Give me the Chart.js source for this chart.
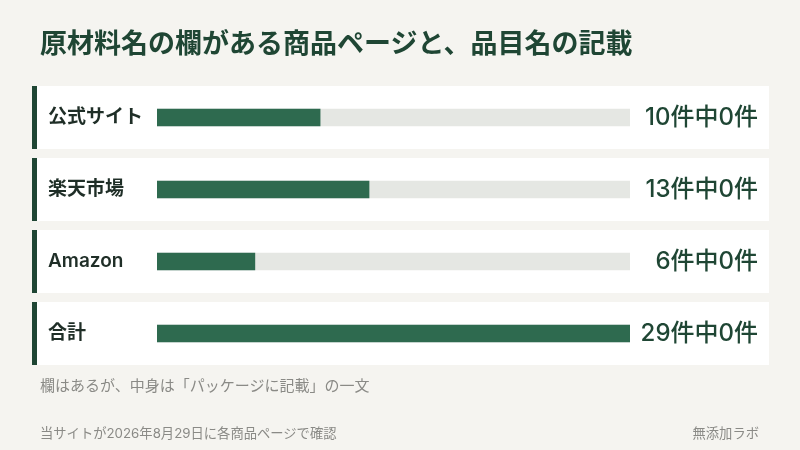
<!DOCTYPE html>
<html lang="ja">
<head>
<meta charset="utf-8">
<script src="https://cdn.jsdelivr.net/npm/chart.js@4.4.1/dist/chart.umd.min.js"></script>
<style>
  html, body { margin: 0; padding: 0; }
  body {
    width: 800px; height: 450px; overflow: hidden; position: relative;
    background: #f5f4f0;
    font-family: Inter, "Noto Sans CJK JP", sans-serif;
  }
  #wrap { position: absolute; left: 0; top: 0; width: 800px; height: 450px; }
  .titulo {
    position: absolute; left: 40px; top: 26px; margin: 0;
    font-size: 27px; font-weight: 700; color: #1f4634; line-height: 36px;
  }
  .nota { position: absolute; left: 40px; top: 374px; font-size: 15px; color: #8a8a86; }
  .pie { position: absolute; top: 423px; font-size: 13.3px; color: #8a8a86; }
</style>
</head>
<body>
<div id="wrap"><canvas id="myChart"></canvas></div>
<h1 class="titulo">原材料名の欄がある商品ページと、品目名の記載</h1>
<div class="nota">欄はあるが、中身は「パッケージに記載」の一文</div>
<div class="pie" style="left:40px">当サイトが2026年8月29日に各商品ページで確認</div>
<div class="pie" style="right:41px">無添加ラボ</div>
<script>
// datos del grafico
const tiendas = ['公式サイト', '楽天市場', 'Amazon', '合計'];
const paginasConCampo = [10, 13, 6, 29];
const conNombreItem = [0, 0, 0, 0];
const totalPaginas = 29;

// texto de la derecha: "10件中0件"
const etiquetasValor = paginasConCampo.map((n, i) => n + '件中' + conNombreItem[i] + '件');

const verdeOscuro = '#1f4634';
const verdeBarra = '#2e6a4f';
const gris = '#e5e7e3';

// dibuja las tarjetas blancas con el borde izquierdo verde
const tarjetas = {
  id: 'tarjetas',
  beforeDraw(chart) {
    const ctx = chart.ctx;
    const y = chart.scales.y;
    ctx.save();
    tiendas.forEach((t, i) => {
      const cy = y.getPixelForValue(i);
      ctx.fillStyle = '#ffffff';
      ctx.fillRect(32, cy - 31.5, 737, 63);
      ctx.fillStyle = verdeOscuro;
      ctx.fillRect(32, cy - 31.5, 5, 63);
    });
    ctx.restore();
  }
};

const ctx = document.getElementById('myChart');
new Chart(ctx, {
  type: 'bar',
  data: {
    labels: tiendas,
    datasets: [
      {
        label: '確認ページ',
        data: paginasConCampo,
        backgroundColor: verdeBarra,
        barThickness: 17,
        order: 1
      },
      {
        // el fondo gris de cada barra
        label: 'track',
        data: tiendas.map(() => totalPaginas),
        backgroundColor: gris,
        barThickness: 17,
        order: 2
      }
    ]
  },
  options: {
    indexAxis: 'y',
    responsive: true,
    maintainAspectRatio: false,
    animation: false,
    layout: { padding: { top: 81.5, bottom: 80.5, left: 48, right: 42 } },
    datasets: { bar: { grouped: false } },
    plugins: {
      legend: { display: false },
      tooltip: { enabled: false }
    },
    scales: {
      x: { display: false, min: 0, max: totalPaginas },
      y: {
        type: 'category',
        position: 'left',
        grid: { display: false },
        border: { display: false },
        afterFit(scale) { scale.width = 109; },
        ticks: {
          crossAlign: 'far',
          color: '#1f2e27',
          font: { family: 'Inter, "Noto Sans CJK JP"', size: 19, weight: '600' }
        }
      },
      y2: {
        type: 'category',
        position: 'right',
        labels: etiquetasValor,
        offset: true,
        grid: { display: false },
        border: { display: false },
        afterFit(scale) { scale.width = 128; },
        ticks: {
          crossAlign: 'far',
          color: verdeOscuro,
          font: { family: 'Inter, "Noto Sans CJK JP"', size: 24, weight: '500' }
        }
      }
    }
  },
  plugins: [tarjetas]
});
</script>
</body>
</html>
